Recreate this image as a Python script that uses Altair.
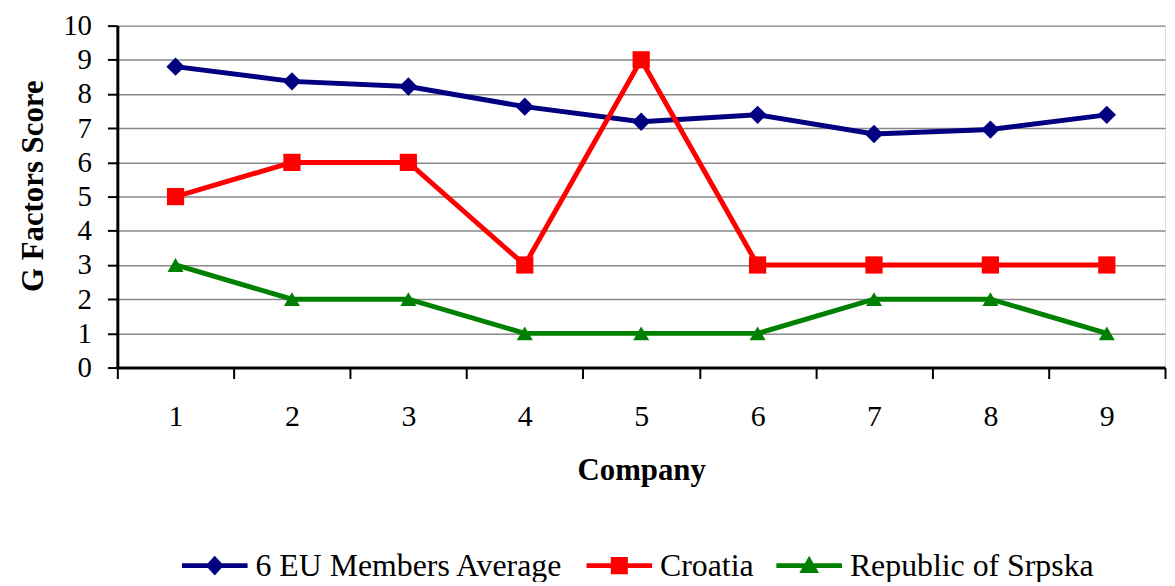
import altair as alt
import pandas as pd

companies = ["1", "2", "3", "4", "5", "6", "7", "8", "9"]
series_names = ["6 EU Members Average", "Croatia", "Republic of Srpska"]
eu_avg = [8.8, 8.37, 8.22, 7.63, 7.19, 7.39, 6.83, 6.96, 7.39]
croatia = [5, 6, 6, 3, 9, 3, 3, 3, 3]
srpska = [3, 2, 2, 1, 1, 1, 2, 2, 1]
colors = ["#000080", "#FF0000", "#008000"]
shapes = ["diamond", "square", "triangle-up"]
marker_sizes = [340, 260, 400]
legend_paths = [
    "M-2,-0.15H2V0.15H-2Z M0,-0.6L0.55,0L0,0.6L-0.55,0Z",
    "M-2,-0.15H2V0.15H-2Z M-0.52,-0.52H0.52V0.52H-0.52Z",
    "M-2,-0.15H2V0.15H-2Z M0,-0.6L0.6,0.45H-0.6Z",
]

rows = []
for name, vals in zip(series_names, [eu_avg, croatia, srpska]):
    for c, v in zip(companies, vals):
        rows.append({"company": c, "score": v, "series": name})
df = pd.DataFrame(rows)

FONT = "Liberation Serif"

x_enc = alt.X(
    "company:O",
    bandPosition=0.5,
    sort=companies,
    scale=alt.Scale(type="band", paddingInner=0, paddingOuter=0),
    axis=alt.Axis(
        title="Company",
        labelAngle=0,
        tickBand="extent",
        tickSize=11,
        tickWidth=2,
        tickColor="black",
        domainColor="black",
        domainWidth=3,
        labelFont=FONT,
        labelFontSize=30,
        labelColor="black",
        labelPadding=23,
        titleFont=FONT,
        titleFontSize=31,
        titleFontWeight="bold",
        titleColor="black",
        titleBaseline="alphabetic",
        titleY=113,
        grid=False,
    ),
)
y_enc = alt.Y(
    "score:Q",
    scale=alt.Scale(domain=[0, 10], nice=False),
    axis=alt.Axis(
        title="G Factors Score",
        values=list(range(0, 11)),
        tickSize=10,
        tickWidth=2,
        tickColor="black",
        domainColor="black",
        domainWidth=3,
        labelFont=FONT,
        labelFontSize=29,
        labelColor="black",
        labelPadding=16,
        titleFont=FONT,
        titleFontSize=31,
        titleFontWeight="bold",
        titleColor="black",
        titleBaseline="alphabetic",
        titleX=-75,
        titleY=161,
        grid=True,
        gridColor="#888888",
        gridWidth=1.5,
    ),
)

base = alt.Chart(df)

lines = base.mark_line(strokeWidth=5).encode(
    x=x_enc,
    y=y_enc,
    color=alt.Color("series:N", scale=alt.Scale(domain=series_names, range=colors), legend=None),
    detail="series:N",
)

points = base.mark_point(filled=True, opacity=1).encode(
    x=x_enc,
    y=y_enc,
    color=alt.Color("series:N", scale=alt.Scale(domain=series_names, range=colors), legend=None),
    shape=alt.Shape("series:N", scale=alt.Scale(domain=series_names, range=shapes), legend=None),
    size=alt.Size("series:N", scale=alt.Scale(domain=series_names, range=marker_sizes), legend=None),
)

leg_legend = alt.Legend(
    title=None,
    orient="none",
    direction="horizontal",
    legendX=81.5,
    legendY=526.5,
    labelFont=FONT,
    labelFontSize=32,
    labelColor="black",
    labelOffset=24.5,
    columnPadding=22,
    symbolSize=1089,
    symbolStrokeWidth=0,
    padding=0,
    labelLimit=500,
)

legend_layer = base.transform_filter("false").mark_point(filled=True, opacity=1).encode(
    x=x_enc,
    y=y_enc,
    color=alt.Color("series:N", scale=alt.Scale(domain=series_names, range=colors), legend=leg_legend),
    shape=alt.Shape("series:N", scale=alt.Scale(domain=series_names, range=legend_paths), legend=leg_legend),
)

chart = (
    alt.layer(lines, points, legend_layer)
    .resolve_scale(color="independent", shape="independent", size="independent")
    .properties(
        width=1054,
        height=344,
        autosize=alt.AutoSizeParams(type="none"),
        padding={"left": 110, "top": 16, "right": 2, "bottom": 214},
    )
    .configure_view(stroke=None)
    .configure(background="white")
)

chart.save("out.html", embed_options={"renderer": "svg", "actions": False})
